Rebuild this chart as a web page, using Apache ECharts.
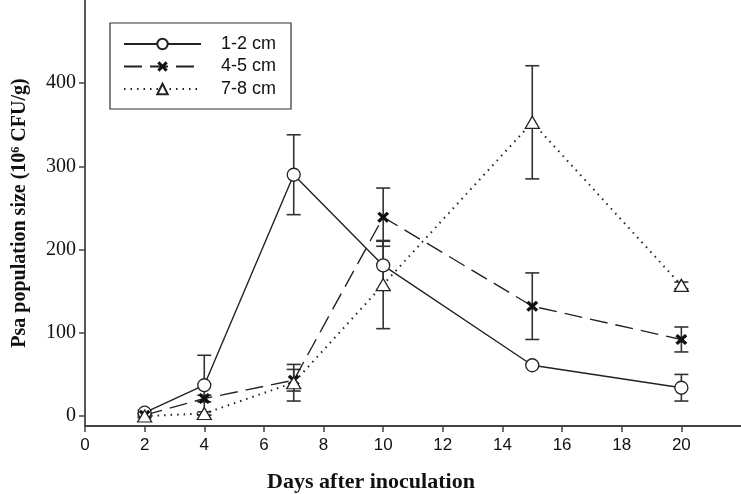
<!DOCTYPE html>
<html>
<head>
<meta charset="utf-8">
<script src="https://cdn.jsdelivr.net/npm/echarts@6/dist/echarts.min.js"></script>
<style>
html,body{margin:0;padding:0;background:#fff;}
#chart{width:741px;height:494px;}
</style>
</head>
<body>
<div id="chart"></div>
<script>
const days = [2, 4, 7, 10, 15, 20];
const s12 = [4, 37, 290, 181, 61, 34];
const e12 = [3, 36, 48, 29, 0, 16];
const s45 = [1, 21, 43, 239, 132, 92];
const e45 = [2, 4, 13, 35, 40, 15];
const s78 = [0, 3, 40, 158, 353, 157];
const e78 = [2, 2, 22, 53, 68, 4];
const xTicks = [0, 2, 4, 6, 8, 10, 12, 14, 16, 18, 20];
const yTicks = [0, 100, 200, 300, 400];
const names = ['1-2 cm', '4-5 cm', '7-8 cm'];

const ink = '#222';
const xPath = 'path://M0,2 L2,0 L5,3 L8,0 L10,2 L7,5 L10,8 L8,10 L5,7 L2,10 L0,8 L3,5 Z';

function pts(vals){ return days.map((d,i)=>[d, vals[i]]); }
function errPts(vals, errs){ return days.map((d,i)=>[d, vals[i], errs[i]]); }

function errSeries(vals, errs){
  return {
    type: 'custom',
    silent: true,
    z: 1,
    data: errPts(vals, errs),
    renderItem: function(params, api){
      const x = api.value(0), y = api.value(1), e = api.value(2);
      if (!e) return null;
      const top = api.coord([x, y + e]);
      const bot = api.coord([x, y - e]);
      const hw = 7;
      const st = {stroke: '#333', lineWidth: 1.6};
      return {type: 'group', children: [
        {type: 'line', shape: {x1: top[0], y1: top[1], x2: bot[0], y2: bot[1]}, style: st},
        {type: 'line', shape: {x1: top[0]-hw, y1: top[1], x2: top[0]+hw, y2: top[1]}, style: st},
        {type: 'line', shape: {x1: bot[0]-hw, y1: bot[1], x2: bot[0]+hw, y2: bot[1]}, style: st}
      ]};
    }
  };
}

const chart = echarts.init(document.getElementById('chart'), null, {renderer: 'canvas'});
chart.setOption({
  animation: false,
  backgroundColor: '#fff',
  grid: {left: 85, right: -5, top: -4, bottom: 68, containLabel: false},
  legend: {
    orient: 'vertical',
    left: 110, top: 23,
    padding: [12, 15, 11, 13],
    borderColor: '#333', borderWidth: 1.2,
    itemWidth: 77, itemHeight: 13, itemGap: 4.5,
    textStyle: {fontFamily: 'Liberation Sans, Arial, sans-serif', fontSize: 18, color: '#111', padding: [0, 0, 0, 15]},
    data: names
  },
  xAxis: {
    type: 'value', min: 0, max: 22,
    axisLine: {onZero: false, lineStyle: {color: '#444', width: 1.8}},
    axisTick: {show: true, length: 6, lineStyle: {color: '#444', width: 1.5}, customValues: xTicks},
    axisLabel: {fontFamily: 'Liberation Sans, Arial, sans-serif', fontSize: 17, color: '#111', margin: 11, customValues: xTicks},
    splitLine: {show: false}
  },
  yAxis: {
    type: 'value', min: -12, max: 500,
    name: 'Psa population size (10{sup|6} CFU/g)',
    nameLocation: 'middle', nameGap: 55, nameRotate: 90,
    nameTextStyle: {fontFamily: 'Liberation Serif, Times New Roman, serif', fontWeight: 'bold', fontSize: 20, color: '#111',
      rich: {sup: {fontFamily: 'Liberation Serif, Times New Roman, serif', fontWeight: 'bold', fontSize: 12, color: '#111', verticalAlign: 'top', padding: [0,0,8,0]}}},
    axisLine: {show: true, onZero: false, lineStyle: {color: '#444', width: 1.8}},
    axisTick: {show: true, length: 6, lineStyle: {color: '#444', width: 1.5}, customValues: yTicks},
    axisLabel: {fontFamily: 'Liberation Serif, Times New Roman, serif', fontSize: 20, color: '#111', margin: 9, customValues: yTicks},
    splitLine: {show: false}
  },
  graphic: [{
    type: 'text', x: 371, y: 482,
    style: {text: 'Days after inoculation', textAlign: 'center', textVerticalAlign: 'middle',
      font: 'bold 22px "Liberation Serif", "Times New Roman", serif', fill: '#111'}
  }],
  series: [
    errSeries(s12, e12), errSeries(s45, e45), errSeries(s78, e78),
    {
      name: names[0], type: 'line', z: 3, data: pts(s12),
      symbol: 'circle', symbolSize: 13,
      lineStyle: {color: ink, width: 1.4, type: 'solid'},
      itemStyle: {color: '#fff', borderColor: ink, borderWidth: 1.3}
    },
    {
      name: names[1], type: 'line', z: 3, data: pts(s45),
      symbol: xPath, symbolSize: [12, 11],
      lineStyle: {color: ink, width: 1.4, type: [18, 8]},
      itemStyle: {color: '#111', borderWidth: 0}
    },
    {
      name: names[2], type: 'line', z: 3, data: pts(s78),
      symbol: 'triangle', symbolSize: [14, 12],
      lineStyle: {color: ink, width: 2, type: [1.5, 5]},
      itemStyle: {color: '#fff', borderColor: ink, borderWidth: 1.3}
    }
  ]
});
</script>
</body>
</html>
